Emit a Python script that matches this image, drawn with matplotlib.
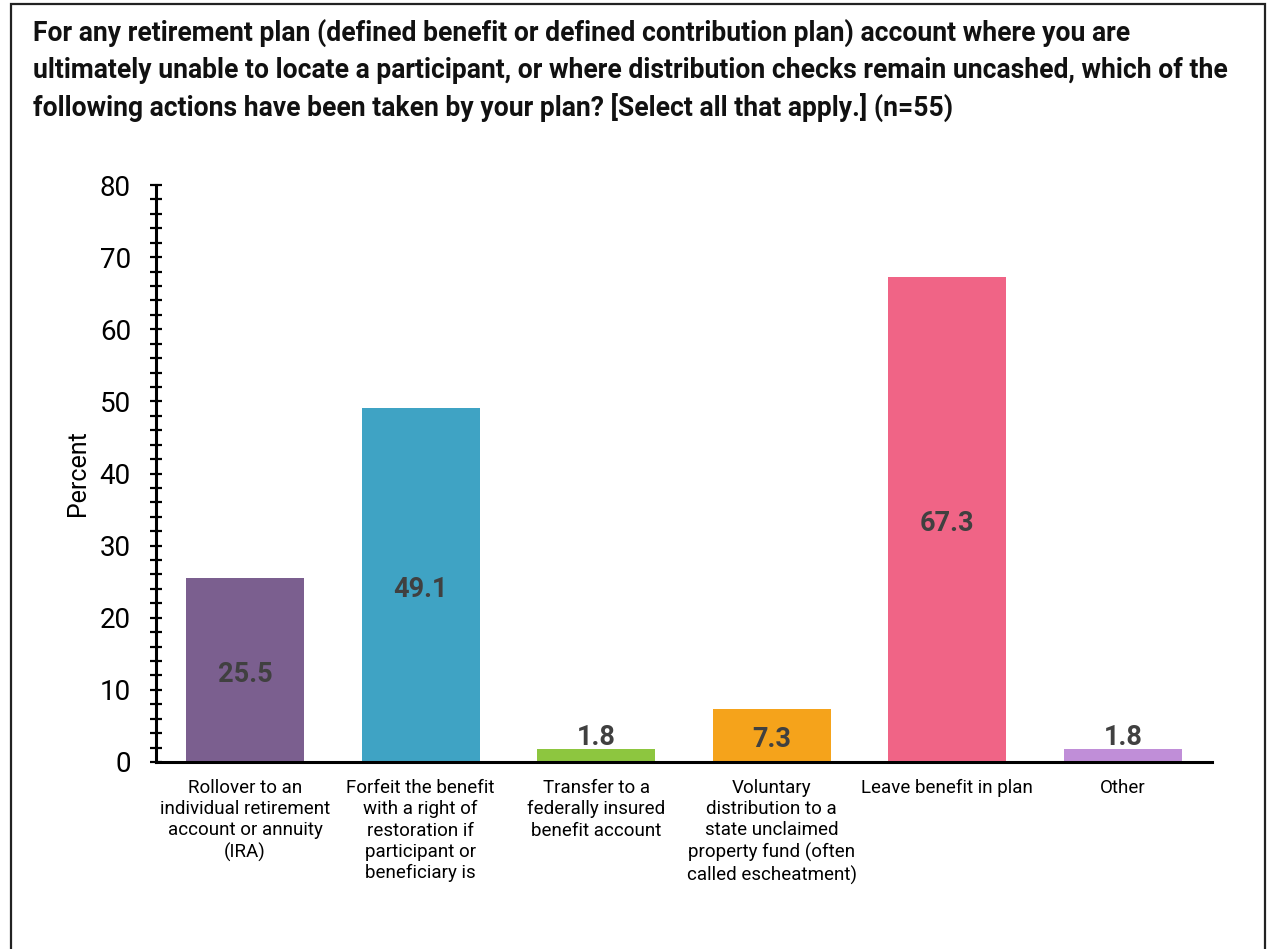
import matplotlib
matplotlib.use("Agg")
import matplotlib.pyplot as plt
from matplotlib.ticker import MultipleLocator
from matplotlib.patches import Rectangle

categories = [
    "Rollover to an\nindividual retirement\naccount or annuity\n(IRA)",
    "Forfeit the benefit\nwith a right of\nrestoration if\nparticipant or\nbeneficiary is",
    "Transfer to a\nfederally insured\nbenefit account",
    "Voluntary\ndistribution to a\nstate unclaimed\nproperty fund (often\ncalled escheatment)",
    "Leave benefit in plan",
    "Other",
]
values = [25.5, 49.1, 1.8, 7.3, 67.3, 1.8]
colors = ["#7B5F8F", "#3FA3C4", "#8DC63F", "#F5A31B", "#F06486", "#C08ED8"]
title_lines = [
    "For any retirement plan (defined benefit or defined contribution plan) account where you are",
    "ultimately unable to locate a participant, or where distribution checks remain uncashed, which of the",
    "following actions have been taken by your plan? [Select all that apply.] (n=55)",
]

plt.rcParams['font.family'] = ['Roboto', 'DejaVu Sans']

W, H = 1267, 949
fig = plt.figure(figsize=(W / 100, H / 100), dpi=100)

# frame
fig.patches.append(Rectangle((11 / W, -0.05), (1265 - 11) / W, (1 - 4 / H) + 0.05,
                             transform=fig.transFigure, fill=False,
                             edgecolor="#222222", linewidth=1.6))

for i, line in enumerate(title_lines):
    fig.text(33 / W, 1 - (33 + i * 37) / H, line, fontsize=19.1, fontweight='bold',
             ha='left', va='center', color='#111111')

ax = fig.add_axes([156 / W, 1 - 762 / H, (1212 - 156) / W, (762 - 185) / H])
x = list(range(len(values)))
ax.bar(x, values, width=0.672, color=colors, zorder=2)
ax.set_xlim(-0.507, 5.507)
ax.set_ylim(0, 80)

for s in ['top', 'right']:
    ax.spines[s].set_visible(False)
for s in ['left', 'bottom']:
    ax.spines[s].set_linewidth(2.2)
    ax.spines[s].set_color('black')

ax.yaxis.set_major_locator(MultipleLocator(10))
ax.yaxis.set_minor_locator(MultipleLocator(2))
ax.tick_params(axis='y', which='both', direction='inout', length=8, width=1.6,
               labelsize=20, pad=14, colors='black')
ax.tick_params(axis='x', length=0, pad=12, labelsize=13.5)
ax.set_xticks(x)
ax.set_xticklabels(categories, linespacing=1.24, va='top')
ax.set_ylabel("Percent", fontsize=18, labelpad=7)

for xi, v in zip(x, values):
    if v > 5:
        ax.annotate(f"{v:.1f}", (xi, v / 2), xytext=(0, -3), textcoords='offset points',
                    ha='center', va='center', fontsize=19.5,
                    fontweight='bold', color='#404040', zorder=3)
    else:
        ax.annotate(f"{v:.1f}", (xi, v), xytext=(0, -1.5), textcoords='offset points',
                    ha='center', va='bottom', fontsize=19.5, fontweight='bold',
                    color='#404040', zorder=3)

fig.savefig("out.png", dpi=100)
